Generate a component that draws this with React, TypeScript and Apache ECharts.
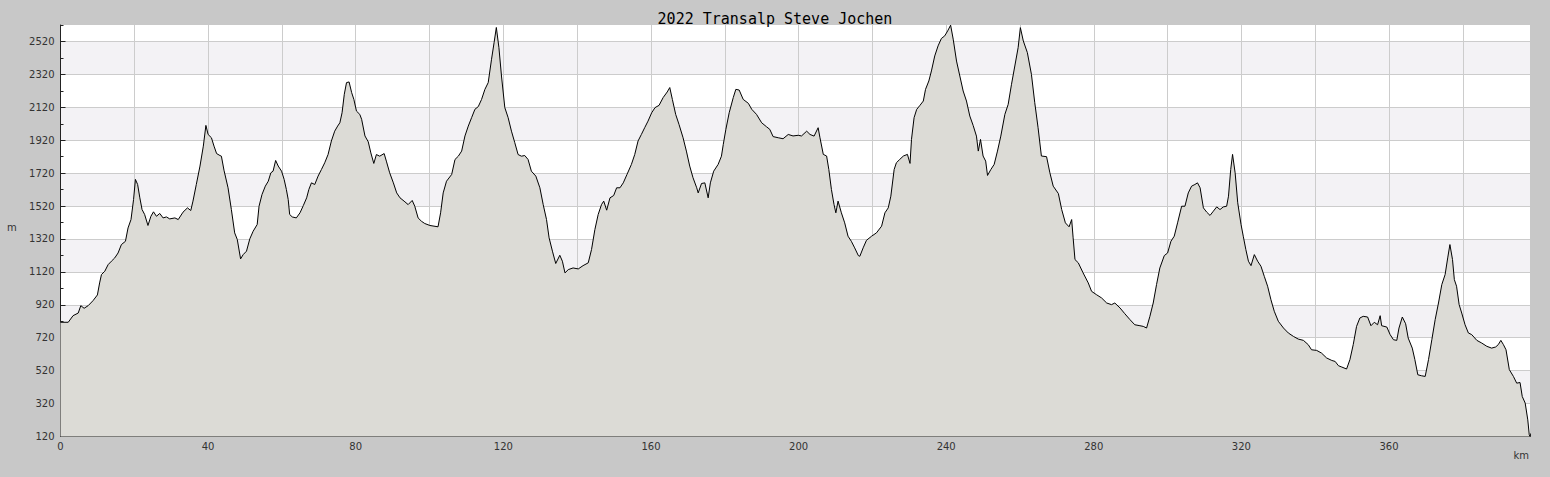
import React, { useEffect, useRef } from "react";
import * as echarts from "echarts";

const TITLE = "2022 Transalp Steve Jochen";
const X_NAME = "km";
const Y_NAME = "m";
const X_MIN = 0;
const X_MAX = 398.2;
const Y_MIN = 120;
const Y_MAX = 2620;

const distKm = [
  0, 2.1, 3.4, 4.8, 5.5, 6.4, 7.5, 8.8, 10.0, 10.6, 11.1, 12.0, 12.9, 13.8, 14.7, 15.6, 16.5, 17.6, 18.3, 19.1,
  19.8, 20.3, 20.9, 21.5, 22.1, 22.8, 23.7, 24.5, 25.2, 26.0, 26.9, 27.8, 28.7, 29.6, 31.0, 31.9, 33.2, 34.4, 35.3, 35.9,
  36.8, 37.8, 38.7, 39.4, 40.0, 40.9, 41.6, 42.3, 43.2, 43.6, 44.3, 45.4, 46.3, 47.2, 47.9, 48.8, 49.5, 50.4, 51.3, 52.2,
  53.3, 53.8, 54.6, 55.5, 56.3, 57.0, 57.6, 58.3, 59.0, 59.9, 60.6, 61.2, 61.7, 62.1, 62.8, 63.9, 64.9, 65.8, 66.7, 67.3,
  68.0, 68.9, 69.8, 70.7, 71.6, 72.5, 73.4, 74.3, 75.1, 75.7, 76.3, 76.9, 77.5, 78.2, 78.9, 79.5, 80.2, 81.1, 81.6, 82.5,
  83.4, 84.1, 84.9, 85.6, 86.5, 87.7, 88.3, 89.2, 90.2, 91.1, 92.0, 93.1, 94.2, 95.3, 96.0, 96.9, 97.8, 98.7, 100.1, 102.3,
  103.0, 103.7, 104.6, 106.0, 106.9, 107.8, 108.7, 109.6, 110.5, 111.4, 112.3, 113.2, 114.1, 115.0, 115.9, 116.8, 117.5, 118.1, 118.8, 119.5,
  120.4, 121.3, 122.2, 123.1, 124.0, 124.9, 125.8, 126.7, 127.6, 128.8, 129.9, 130.8, 131.7, 132.4, 133.3, 134.2, 135.3, 136.0, 136.7, 137.6,
  138.9, 140.3, 141.6, 143.0, 143.9, 144.8, 145.7, 146.6, 147.2, 148.0, 148.9, 149.9, 150.7, 151.6, 152.5, 153.5, 154.7, 155.6, 156.5, 157.4,
  158.3, 159.2, 160.2, 161.1, 162.2, 163.3, 164.4, 165.1, 165.8, 166.7, 167.6, 168.7, 169.6, 170.5, 171.4, 172.4, 172.8, 173.7, 174.6, 175.5,
  176.1, 177.0, 178.2, 179.1, 179.6, 180.3, 181.2, 182.3, 183.0, 183.9, 185.0, 186.4, 187.3, 188.6, 190.0, 191.3, 192.2, 193.1, 194.5, 195.8,
  197.2, 198.5, 199.9, 200.8, 202.2, 203.1, 204.2, 205.3, 205.8, 206.7, 207.6, 208.2, 208.9, 209.6, 210.1, 210.7, 211.6, 212.5, 213.4, 214.3,
  215.2, 216.2, 216.6, 217.5, 218.4, 219.8, 221.1, 222.5, 223.4, 224.3, 225.0, 225.9, 226.5, 227.4, 228.4, 229.5, 230.2, 230.6, 231.3, 232.0,
  232.9, 233.8, 234.4, 235.3, 236.0, 236.9, 237.8, 238.7, 239.6, 240.4, 241.2, 241.9, 242.8, 243.7, 244.6, 245.5, 246.4, 247.3, 248.2, 248.7,
  249.3, 250.0, 250.7, 251.2, 252.1, 253.0, 253.9, 254.8, 255.9, 256.8, 257.7, 258.6, 259.5, 260.1, 260.9, 262.0, 263.1, 264.0, 264.9, 265.8,
  267.2, 268.1, 269.0, 270.4, 271.3, 272.3, 273.3, 274.0, 274.4, 274.9, 275.8, 277.1, 278.5, 279.4, 280.7, 282.1, 283.5, 284.8, 285.7, 287.1,
  288.4, 289.8, 291.1, 292.5, 293.4, 294.3, 295.2, 296.1, 297.0, 297.9, 299.1, 300.0, 300.9, 301.8, 302.7, 303.8, 304.7, 305.6, 306.5, 307.4,
  308.1, 308.8, 309.7, 310.6, 311.5, 312.4, 313.3, 314.2, 315.1, 316.0, 316.5, 317.1, 317.6, 318.3, 319.0, 319.9, 320.5, 321.2, 321.9, 322.6,
  323.5, 324.4, 325.3, 326.2, 327.1, 328.0, 328.9, 330.0, 331.4, 332.7, 334.1, 335.4, 336.8, 338.1, 339.0, 340.4, 341.7, 343.1, 344.5, 345.4,
  346.3, 347.2, 348.5, 349.4, 350.3, 351.2, 352.1, 353.0, 354.2, 355.1, 356.0, 356.9, 357.6, 358.0, 359.4, 360.3, 361.2, 362.1, 362.7, 363.6,
  364.5, 365.2, 366.3, 367.0, 367.8, 368.8, 369.8, 370.7, 371.6, 372.5, 373.4, 374.3, 375.2, 375.9, 376.5, 377.2, 377.7, 378.3, 379.0, 379.7,
  380.6, 381.5, 382.4, 383.8, 385.1, 386.5, 387.8, 388.9, 389.6, 390.3, 391.0, 391.7, 392.6, 393.7, 394.6, 395.5, 396.1, 396.9, 397.6, 398.0,
  398.2,
];

const elevM = [
  814, 814, 854, 870, 915, 899, 915, 945, 980, 1053, 1104, 1124, 1164, 1185, 1205, 1235, 1286, 1306, 1387, 1438,
  1560, 1682, 1651, 1570, 1499, 1469, 1402, 1458, 1485, 1458, 1475, 1448, 1454, 1442, 1448, 1438, 1483, 1509, 1493, 1550,
  1651, 1763, 1884, 2010, 1955, 1935, 1884, 1839, 1827, 1823, 1738, 1631, 1499, 1357, 1317, 1199, 1225, 1246, 1321, 1367,
  1408, 1519, 1590, 1641, 1671, 1722, 1732, 1797, 1763, 1732, 1682, 1621, 1560, 1469, 1454, 1448, 1479, 1523, 1570, 1621,
  1661, 1651, 1702, 1742, 1783, 1833, 1915, 1975, 2006, 2026, 2087, 2199, 2270, 2274, 2209, 2168, 2097, 2077, 2047, 1946,
  1910, 1843, 1779, 1833, 1823, 1839, 1793, 1722, 1661, 1600, 1570, 1550, 1529, 1554, 1519, 1448, 1428, 1414, 1402, 1394,
  1479, 1600, 1671, 1712, 1803, 1823, 1854, 1946, 2006, 2057, 2108, 2124, 2168, 2229, 2270, 2412, 2514, 2605, 2483, 2310,
  2118, 2057, 1975, 1905, 1833, 1823, 1827, 1803, 1732, 1702, 1631, 1529, 1438, 1327, 1246, 1171, 1221, 1185, 1114, 1134,
  1144, 1138, 1158, 1175, 1256, 1377, 1469, 1529, 1550, 1495, 1570, 1584, 1631, 1631, 1661, 1712, 1773, 1833, 1915, 1955,
  1996, 2036, 2087, 2118, 2132, 2179, 2213, 2240, 2168, 2077, 2016, 1935, 1854, 1763, 1692, 1631, 1600, 1657, 1661, 1570,
  1661, 1732, 1773, 1823, 1895, 1986, 2087, 2179, 2229, 2225, 2168, 2144, 2108, 2077, 2026, 2002, 1986, 1942, 1935, 1929,
  1955, 1946, 1950, 1946, 1975, 1955, 1945, 1996, 1935, 1834, 1824, 1742, 1621, 1530, 1479, 1550, 1479, 1418, 1337, 1306,
  1266, 1219, 1215, 1266, 1312, 1337, 1357, 1398, 1479, 1509, 1580, 1742, 1783, 1803, 1824, 1834, 1779, 1925, 2057, 2107,
  2132, 2158, 2229, 2280, 2341, 2432, 2493, 2538, 2554, 2584, 2619, 2534, 2401, 2310, 2219, 2158, 2067, 2010, 1945, 1854,
  1925, 1824, 1793, 1706, 1742, 1773, 1854, 1945, 2077, 2138, 2260, 2371, 2483, 2604, 2523, 2452, 2320, 2148, 1996, 1824,
  1820, 1722, 1641, 1596, 1499, 1418, 1394, 1438, 1327, 1195, 1175, 1114, 1053, 1002, 982, 962, 931, 921, 931, 901,
  866, 830, 799, 793, 789, 779, 850, 931, 1043, 1144, 1219, 1235, 1306, 1337, 1418, 1519, 1519, 1600, 1641, 1651,
  1661, 1631, 1509, 1483, 1463, 1489, 1515, 1499, 1515, 1519, 1580, 1742, 1834, 1722, 1540, 1408, 1337, 1256, 1185, 1158,
  1225, 1185, 1154, 1093, 1033, 951, 881, 820, 779, 749, 728, 712, 704, 678, 647, 643, 627, 597, 582, 576,
  550, 542, 530, 587, 678, 789, 840, 850, 846, 793, 814, 799, 854, 793, 785, 739, 708, 704, 779, 846,
  805, 718, 657, 587, 495, 489, 485, 587, 708, 830, 931, 1043, 1104, 1205, 1286, 1195, 1073, 1033, 921, 870,
  799, 749, 739, 704, 688, 668, 657, 664, 678, 704, 678, 647, 526, 485, 444, 448, 363, 323, 221, 130,
  120,
];

const AXIS_COLOR = "#222222";
const LABEL_COLOR = "#333333";
const GRID_COLOR = "#cccccc";

export default function App() {
  const ref = useRef<HTMLDivElement>(null);

  useEffect(() => {
    if (!ref.current) return;
    const chart = echarts.init(ref.current, null, { renderer: "svg" });
    const data = distKm.map((d, i) => [d, elevM[i]]);
    const labelFont = { color: LABEL_COLOR, fontSize: 10, fontFamily: "DejaVu Sans" };

    chart.setOption({
      animation: false,
      backgroundColor: "#c8c8c8",
      title: {
        text: TITLE,
        left: "center",
        top: 6,
        textStyle: { fontFamily: "DejaVu Sans Mono", fontSize: 15, fontWeight: "normal", color: "#000" },
      },
      grid: {
        left: 60.5,
        right: 20,
        top: 25,
        bottom: 40.5,
        show: true,
        backgroundColor: "#ffffff",
        borderWidth: 0,
      },
      xAxis: [
        {
          type: "value",
          min: X_MIN,
          max: X_MAX,
          interval: 20,
          position: "bottom",
          axisLine: { show: true, lineStyle: { color: AXIS_COLOR, width: 1 } },
          axisTick: { show: true, inside: true, length: 5, lineStyle: { color: AXIS_COLOR } },
          axisLabel: {
            ...labelFont,
            margin: 5,
            showMaxLabel: false,
            formatter: (v: number) => (Math.abs(v % 40) < 1e-6 ? String(v) : ""),
          },
          splitLine: { show: true, showMinLine: false, showMaxLine: false, lineStyle: { color: GRID_COLOR, width: 1 } },
        },
        {
          type: "value",
          min: X_MIN,
          max: X_MAX,
          interval: 10,
          position: "bottom",
          offset: 0,
          axisLine: { show: false },
          axisTick: { show: true, inside: true, length: 3, lineStyle: { color: AXIS_COLOR } },
          axisLabel: { show: false },
          splitLine: { show: false },
        },
      ],
      yAxis: [
        {
          type: "value",
          min: Y_MIN,
          max: Y_MAX,
          interval: 200,
          position: "left",
          axisLine: { show: true, lineStyle: { color: AXIS_COLOR, width: 1 } },
          axisTick: { show: true, inside: true, length: 5, lineStyle: { color: AXIS_COLOR } },
          axisLabel: { ...labelFont, margin: 6, showMaxLabel: false, formatter: (v: number) => String(v) },
          splitLine: { show: true, showMinLine: false, showMaxLine: false, lineStyle: { color: GRID_COLOR, width: 1 } },
          splitArea: { show: true, areaStyle: { color: ["#ffffff", "#f3f2f5"] } },
        },
        {
          type: "value",
          min: Y_MIN,
          max: Y_MAX,
          interval: 100,
          position: "left",
          offset: 0,
          axisLine: { show: false },
          axisTick: { show: true, inside: true, length: 3, lineStyle: { color: AXIS_COLOR } },
          axisLabel: { show: false },
          splitLine: { show: false },
        },
      ],
      graphic: [
        { type: "text", left: 7, top: 222, style: { text: Y_NAME, fill: LABEL_COLOR, font: "10px DejaVu Sans" } },
        { type: "text", right: 21, top: 450, style: { text: X_NAME, fill: LABEL_COLOR, font: "10px DejaVu Sans" } },
      ],
      series: [
        {
          type: "line",
          xAxisIndex: 0,
          yAxisIndex: 0,
          data,
          showSymbol: false,
          symbol: "none",
          silent: true,
          lineStyle: { color: "#000000", width: 1 },
          areaStyle: { color: "#dcdbd6", opacity: 1, origin: "start" },
          z: 3,
        },
      ],
    });

    return () => chart.dispose();
  }, []);

  return (
    <div
      ref={ref}
      style={{ position: "fixed", left: 0, top: 0, width: 1550, height: 477 }}
    />
  );
}
